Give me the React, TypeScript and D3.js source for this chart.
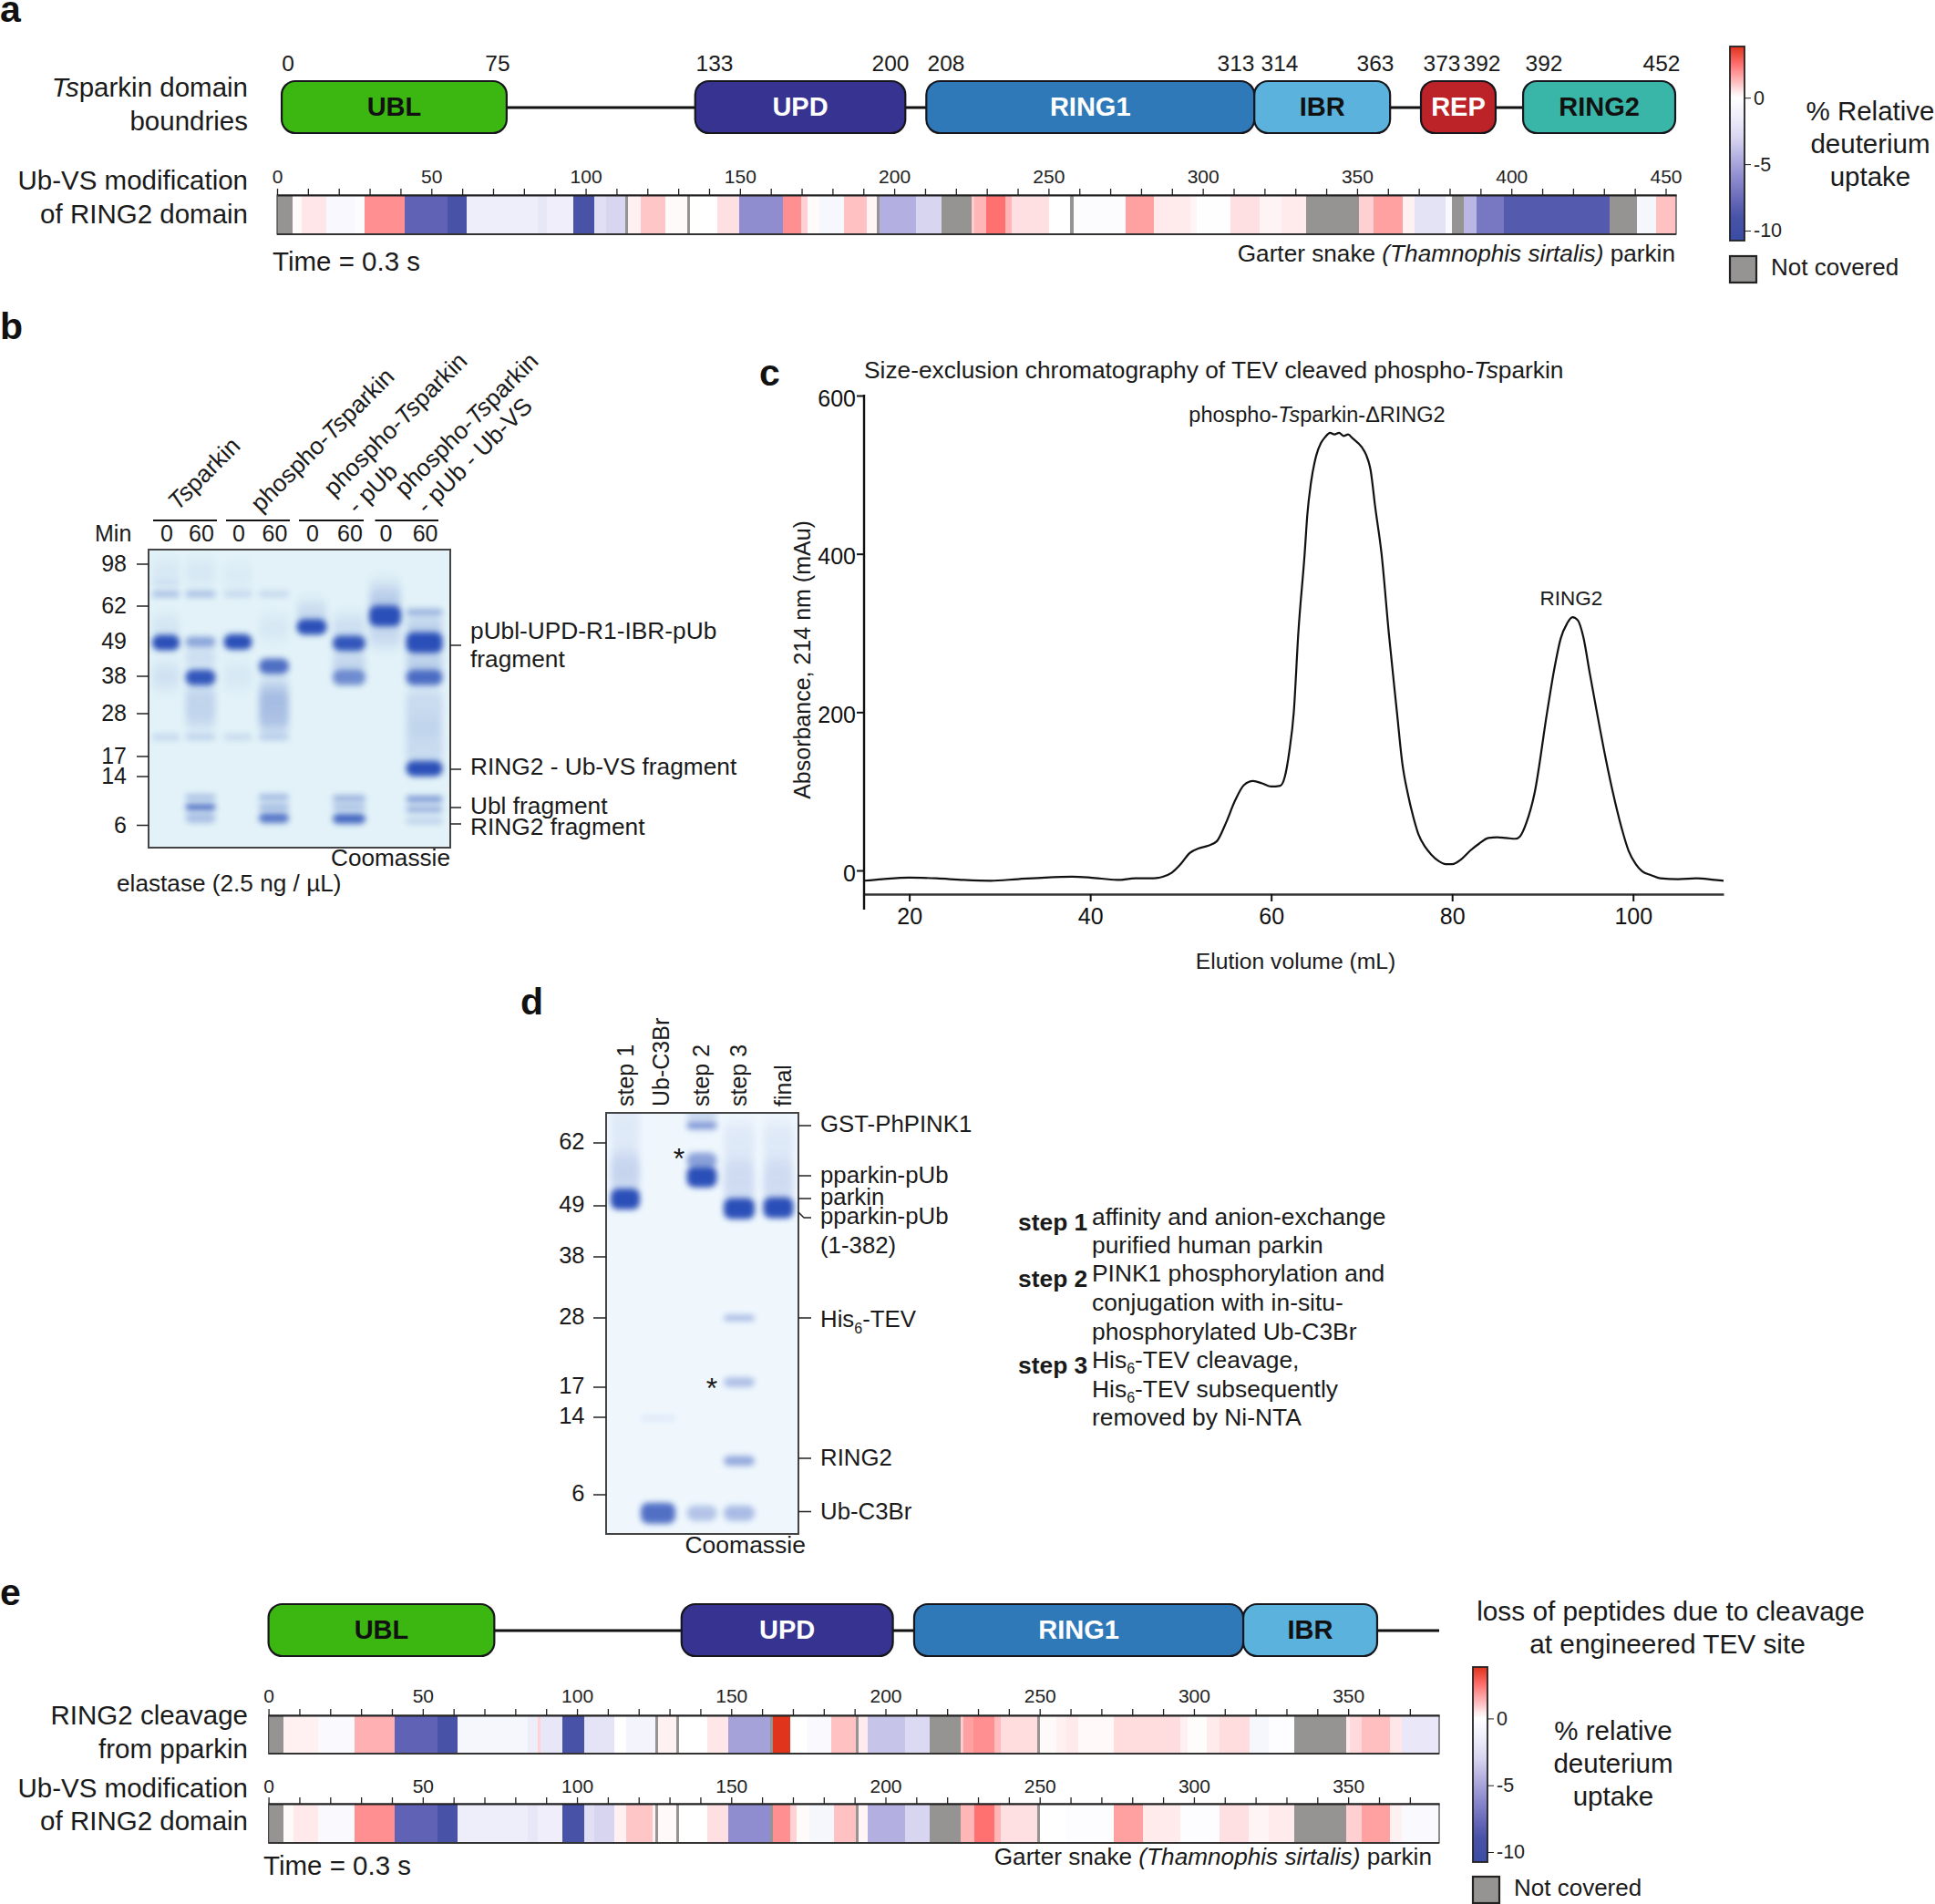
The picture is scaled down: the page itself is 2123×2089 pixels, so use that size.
import { useEffect, useRef } from 'react';
import * as d3 from 'd3';

type Seg = [number, number | null];
type Band = [number, number, number, string];
type Sel = d3.Selection<any, unknown, null, undefined>;

const FONT = '"Liberation Sans", Arial, sans-serif';
const GREY = '#969492';

// % relative deuterium uptake per segment: [first residue, uptake], null = not covered
const ubVsFull: Seg[] = [
  [0, null], [5, 0.1], [8, 0.5], [16, -0.5], [25, -0.25], [28.3, 2], [41.3, -8], [55.3, -9], [61.3, -1.5],
  [84.5, -1.9], [87.5, -1.4], [95.9, -9], [102.9, -2.4], [106.5, -3], [112.8, null], [113.8, 0.3], [117.8, 1],
  [125.8, 0.1], [132.8, null], [133.8, 0], [142.8, 0.6], [149.8, -6], [163.8, 2], [169.8, 0.8], [171.8, 0.08],
  [175.8, -0.6], [183.8, 1.1], [191.2, 0.2], [194.4, null], [195.2, -4.5], [207.2, -3], [215.2, null], [225.1, 0.9],
  [226, 1.3], [229.7, 2.5], [236.1, 1.3], [238.1, 0.6], [250.1, 0], [257.1, null], [258.1, -0.2], [275.1, 1.7],
  [284.1, 0.42], [296.1, 0.2], [298.1, -0.1], [309.1, 0.6], [318.5, 0.22], [325.6, 0.42], [333.6, null], [350.6, 0.85],
  [355.2, 1.7], [364.8, 0.3], [368.6, -2.2], [378.6, -0.5], [380.6, null], [384.6, -4.2], [388.8, -7], [397.6, -8.5],
  [431.8, null], [440.8, -0.7], [446.8, 1.1],
];
const ring2Cleavage: Seg[] = [
  [0, null], [4.9, 0.3], [16, -0.4], [27.9, 1.4], [41, -8], [54.8, -9], [61.2, -0.7], [84, -1.5], [87.2, 0.8],
  [88.2, -1.9], [95.3, -9], [102.3, -2.1], [112.1, -0.1], [115.9, -0.9], [125.3, null], [126.2, 0.3], [132.1, null],
  [133, 0], [142.3, 0.5], [149, -5.1], [162.6, null], [163.4, 3.8], [169.2, 0], [174.3, -0.4], [182.4, 1.1],
  [190.3, null], [191.2, 0.4], [194.2, -3.7], [206.5, -2.7], [214.3, null], [224.3, 0.9], [225.3, 1.7], [228.5, 2],
  [235.3, 1.2], [237.4, 0.65], [249.2, null], [250.1, 0.1], [255.4, 0.3], [258.6, 0.45], [262.4, 0.12], [274, 0.65],
  [295.6, 0.3], [297.9, 0.06], [304.3, 0.42], [308.3, 0.65], [318, -0.7], [324.1, -0.15], [332.4, null], [349.3, 0.45],
  [350.6, 0.7], [354.4, 1.15], [363.5, 0.5], [367.5, -1.8], [379.5, -1.8],
];
const ubVsTrim: Seg[] = [
  [0, null], [4.9, 0.1], [8.1, 0.45], [16, -0.4], [27.9, 2], [41, -8], [54.8, -9], [61.2, -1.5], [84, -1.9],
  [87.2, -1.4], [95.3, -9], [102.3, -2.4], [105.7, -3], [112.1, 0.3], [116, 1], [124.4, 0.3], [125.3, null],
  [126.2, 0.12], [132.1, null], [133, 0], [142.3, 0.6], [149, -6], [162.6, null], [163.4, 2], [169.2, 0.8],
  [171.1, 0.08], [175.2, -0.7], [183.2, 1.1], [190.3, null], [191.2, 0.2], [194.2, -4.5], [206.5, -3], [214.3, null],
  [224.3, 1.3], [228.9, 2.5], [235.3, 1.3], [237.4, 0.6], [249.2, null], [250.1, 0], [258.6, -0.15], [274, 1.7],
  [283.5, 0.42], [295.6, -0.15], [308.3, 0.6], [317.6, 0.22], [324.1, 0.42], [332.4, null], [349.3, 0.85], [354.4, 1.7],
  [363.5, 0.3], [367.5, -0.4], [379.5, -0.4],
];

// colour key of the uptake legend
const uptakeStops = [-10.75, -9, -8, -6, -4.5, -3, -1.5, -0.5, 0, 0.5, 1, 2, 2.5, 3.85];
const uptakeColors = ['#3a4ca4', '#4853a8', '#5f62b5', '#8f8ccf', '#b3b0e1', '#d8d5f0', '#eeedfa', '#f8f8fe',
  '#ffffff', '#ffe6e8', '#ffc6c8', '#ff8f90', '#ff7070', '#e0321a'];
const legendTicks = [0, -5, -10];

// domain boxes, in residues of the drawn schematic
const domainNames = ['UBL', 'UPD', 'RING1', 'IBR', 'REP', 'RING2'];
const domainStarts = [1.5, 135.5, 210.4, 316.7, 370.7, 403.8];
const domainEnds = [74.4, 203.6, 316.7, 360.7, 394.9, 453.1];
const domainFills = ['#3cb712', '#363391', '#2f79b9', '#5ab2dd', '#bb2329', '#3ab6a8'];
const domainInk = ['#111', '#fff', '#fff', '#111', '#fff', '#111'];
const domainStartsE = [0, 133.9, 209.3, 316];
const domainEndsE = [73.2, 202.4, 316, 359.4];
const boundaryLabels = ['0', '75', '133', '200', '208', '313', '314', '363', '373', '392', '392', '452'];
const boundaryX = [316, 546, 784, 977, 1038, 1356, 1404, 1509, 1582, 1626, 1694, 1823];

// SEC trace
const elutionVol = [15, 17, 20, 23, 26, 29, 32, 35, 38, 40, 43, 45, 47, 48, 49, 50, 51, 52, 53, 54, 55, 56, 57, 58, 59, 60, 61, 61.5,
  62, 62.5, 63, 63.7, 64, 64.4, 65, 65.5, 66, 66.5, 67, 67.5, 68, 68.5, 69, 70, 70.5, 71, 71.5, 72.2, 73, 73.9, 74.5, 75.1, 75.7, 76.3, 77, 77.7, 78.5, 79.3, 80, 81, 82, 83,
  84, 85, 86, 87, 87.5, 88.2, 89.1, 90.5, 91.3, 92, 92.7, 93.3, 93.9, 94.5, 95.2, 96, 97, 97.8, 98.7, 99.5, 100.3, 101, 102, 103, 105, 107, 109, 110];
const absorbance = [-13, -11, -9, -10, -12, -13, -11, -9, -8, -9, -12, -10, -10, -8, -3, 8, 22, 28, 31, 37, 60, 88, 108, 113, 110, 106, 107, 118,
  150, 200, 300, 400, 450, 490, 525, 540, 548, 553, 551, 553, 549, 551, 546, 535, 525, 505, 459, 400, 300, 200, 135, 97, 68, 45, 30, 20, 12, 8, 8, 14, 25, 34,
  41, 42, 41, 40, 43, 60, 97, 200, 255, 293, 312, 320, 316, 295, 250, 200, 140, 97, 55, 25, 8, -1, -6, -10, -11, -10, -12, -13];
const secXTicks = [20, 40, 60, 80, 100];
const secYTicks = [0, 200, 400, 600];

// gels: [lane, apparent mass in kDa, stain strength, band kind]
const gelBMasses = [98, 62, 49, 38, 28, 17, 14, 6];
const gelBLanes = ['0', '60', '0', '60', '0', '60', '0', '60'];
const gelBBands: Band[] = [
  [0, 91, 0.06, 'smear'], [0, 82, 0.08, 'thin'], [0, 72.4, 0.3, 'thin'], [0, 54, 0.08, 'smear'], [0, 48.7, 1, 'heavy'], [0, 38, 0.1, 'smear'], [0, 22, 0.16, 'thin'],
  [1, 91, 0.06, 'smear'], [1, 72.4, 0.3, 'thin'], [1, 49, 0.45, 'band'], [1, 44, 0.12, 'smear'], [1, 37.7, 0.95, 'heavy'], [1, 30, 0.18, 'long'], [1, 22, 0.18, 'thin'], [1, 10.6, 0.3, 'thin'], [1, 9, 0.8, 'thin'], [1, 7.2, 0.3, 'band'],
  [2, 72.4, 0.15, 'thin'], [2, 88, 0.04, 'smear'], [2, 48.9, 1, 'heavy'], [2, 38, 0.06, 'smear'], [2, 22, 0.14, 'thin'],
  [3, 72.4, 0.15, 'thin'], [3, 54, 0.06, 'smear'], [3, 41.2, 0.8, 'heavy'], [3, 35, 0.12, 'smear'], [3, 29, 0.3, 'long'], [3, 22, 0.18, 'thin'], [3, 10.6, 0.35, 'thin'], [3, 9, 0.35, 'thin'], [3, 7.2, 0.75, 'band'],
  [4, 59, 0.15, 'smear'], [4, 54.4, 1, 'heavy'],
  [5, 54, 0.12, 'smear'], [5, 48.5, 0.95, 'heavy'], [5, 42, 0.18, 'smear'], [5, 37.7, 0.6, 'heavy'], [5, 10.4, 0.4, 'thin'], [5, 9, 0.3, 'thin'], [5, 7.1, 0.85, 'band'],
  [6, 75, 0.08, 'smear'], [6, 65, 0.2, 'smear'], [6, 58.4, 1, 'xheavy'], [6, 52, 0.16, 'smear'],
  [7, 59.8, 0.35, 'thin'], [7, 54, 0.2, 'smear'], [7, 48.7, 1, 'xheavy'], [7, 42, 0.22, 'smear'], [7, 37.7, 0.8, 'heavy'], [7, 29, 0.14, 'long'], [7, 20, 0.14, 'long'], [7, 15.2, 1, 'heavy'], [7, 10.3, 0.55, 'thin'], [7, 8.6, 0.4, 'thin'], [7, 6.7, 0.2, 'thin'],
];
const gelDMasses = [62, 49, 38, 28, 17, 14, 6];
const gelDLanes = ['step 1', 'Ub-C3Br', 'step 2', 'step 3', 'final'];
const gelDBands: Band[] = [
  [0, 65, 0.08, 'long'], [0, 56, 0.2, 'long'], [0, 50.4, 1, 'xheavy'],
  [1, 13.9, 0.08, 'thin'], [1, 4.1, 0.8, 'xheavy'],
  [2, 68, 0.2, 'smear'], [2, 65.6, 0.55, 'thin'], [2, 58.4, 0.5, 'heavy'], [2, 55, 1, 'xheavy'], [2, 4.1, 0.3, 'heavy'],
  [3, 62, 0.08, 'long'], [3, 54, 0.16, 'long'], [3, 48.4, 1, 'xheavy'], [3, 28, 0.35, 'thin'], [3, 17.8, 0.32, 'band'], [3, 9.5, 0.45, 'band'], [3, 4.1, 0.35, 'heavy'],
  [4, 62, 0.08, 'long'], [4, 54, 0.16, 'long'], [4, 48.6, 1, 'xheavy'],
];

const bandHeights: Record<string, number> = { thin: 7, band: 11, heavy: 17, xheavy: 23, smear: 26, long: 45 };

const stepNotes: [string, (string | [string, boolean])[]][] = [
  ['step 1', ['affinity and anion-exchange']],
  ['', ['purified human parkin']],
  ['step 2', ['PINK1 phosphorylation and']],
  ['', ['conjugation with in-situ-']],
  ['', ['phosphorylated Ub-C3Br']],
  ['step 3', ['His', ['6', true], '-TEV cleavage,']],
  ['', ['His', ['6', true], '-TEV subsequently']],
  ['', ['removed by Ni-NTA']],
];

const uptakeColor = d3.scaleLinear<string>().domain(uptakeStops).range(uptakeColors).clamp(true);

// one helper for all the plain labels, parts = [text, italic]
function label(g: Sel, x: number, y: number, parts: string | [string, boolean][], size: number, anchor = 'start', weight = 'normal', fill = '#1a1a1a') {
  const t = g.append('text').attr('x', x).attr('y', y).attr('font-size', size).attr('text-anchor', anchor)
    .attr('font-weight', weight).attr('font-family', FONT).attr('fill', fill);
  if (typeof parts === 'string') t.text(parts);
  else parts.forEach(([s, it]) => t.append('tspan').attr('font-style', it ? 'italic' : 'normal').text(s));
  return t;
}

function drawStrip(g: Sel, x: d3.ScaleLinear<number, number>, segs: Seg[], top: number, h: number, end: number, tickPad: number) {
  g.selectAll(null).data(segs).enter().append('rect')
    .attr('x', d => x(d[0]))
    .attr('width', (d, i) => x(i + 1 < segs.length ? segs[i + 1][0] : end) - x(d[0]))
    .attr('y', top).attr('height', h)
    .attr('fill', d => d[1] === null ? GREY : uptakeColor(d[1]))
    .attr('shape-rendering', 'crispEdges');
  g.append('rect').attr('x', x(0)).attr('y', top).attr('width', x(end) - x(0)).attr('height', h)
    .attr('fill', 'none').attr('stroke', '#444').attr('stroke-width', 1.2);
  g.append('line').attr('x1', x(0)).attr('x2', x(end)).attr('y1', top + h).attr('y2', top + h).attr('stroke', '#333').attr('stroke-width', 2.2);
  const axis = g.append('g').attr('transform', `translate(0,${top})`)
    .call(d3.axisTop(x).tickValues(d3.range(0, end, 10)).tickSize(7).tickSizeOuter(0).tickPadding(tickPad)
      .tickFormat(d => (+d % 50 === 0 ? String(d) : '')));
  axis.attr('font-size', 21).attr('font-family', FONT).attr('color', '#222');
  axis.select('.domain').attr('stroke-width', 2);
  axis.selectAll('.tick line').attr('stroke-width', 1.3);
}

function drawDomains(g: Sel, x: d3.ScaleLinear<number, number>, starts: number[], ends: number[], top: number, h: number, lineEnd: number) {
  g.append('line').attr('x1', x(starts[0])).attr('x2', x(lineEnd)).attr('y1', top + h / 2 + 0.5).attr('y2', top + h / 2 + 0.5)
    .attr('stroke', '#111').attr('stroke-width', 3);
  starts.forEach((s, i) => {
    g.append('rect').attr('x', x(s)).attr('y', top).attr('width', x(ends[i]) - x(s)).attr('height', h).attr('rx', 15)
      .attr('fill', domainFills[i]).attr('stroke', '#16161c').attr('stroke-width', 2.2);
    label(g, (x(s) + x(ends[i])) / 2, top + h / 2 + 9, domainNames[i], 29, 'middle', 'bold', domainInk[i]);
  });
}

function drawLegend(g: Sel, left: number, top: number, h: number, gradId: string, defs: Sel, boxTop: number) {
  const w = 16;
  const y = d3.scaleLinear().domain([3.85, -10.75]).range([top, top + h]);
  const grad = defs.append('linearGradient').attr('id', gradId).attr('x1', 0).attr('y1', 0).attr('x2', 0).attr('y2', 1);
  uptakeStops.slice().reverse().forEach(v => {
    grad.append('stop').attr('offset', (y(v) - top) / h).attr('stop-color', uptakeColor(v));
  });
  g.append('rect').attr('x', left).attr('y', top).attr('width', w).attr('height', h)
    .attr('fill', `url(#${gradId})`).attr('stroke', '#222').attr('stroke-width', 1.8);
  const axis = g.append('g').attr('transform', `translate(${left + w},0)`)
    .call(d3.axisRight(y).tickValues(legendTicks).tickSize(7).tickPadding(3).tickFormat(d => String(d)));
  axis.attr('font-size', 21.5).attr('font-family', FONT).attr('color', '#222');
  axis.select('.domain').remove();
  g.append('rect').attr('x', left).attr('y', boxTop).attr('width', 29).attr('height', 29)
    .attr('fill', GREY).attr('stroke', '#222').attr('stroke-width', 2.2);
  label(g, left + 45, boxTop + 21, 'Not covered', 26);
}

function drawGel(g: Sel, id: string, defs: Sel, frame: { x: number; y: number; w: number; h: number }, bg: string,
  yMass: d3.ScaleLinear<number, number>, laneX: number[], laneW: number[], bands: Band[]) {
  defs.append('clipPath').attr('id', `${id}-clip`).append('rect').attr('x', frame.x).attr('y', frame.y).attr('width', frame.w).attr('height', frame.h);
  defs.append('filter').attr('id', `${id}-soft`).attr('x', '-50%').attr('y', '-100%').attr('width', '200%').attr('height', '300%')
    .append('feGaussianBlur').attr('stdDeviation', '3.5 8');
  defs.append('filter').attr('id', `${id}-sharp`).attr('x', '-50%').attr('y', '-200%').attr('width', '200%').attr('height', '500%')
    .append('feGaussianBlur').attr('stdDeviation', '3 3.2');
  g.append('rect').attr('x', frame.x).attr('y', frame.y).attr('width', frame.w).attr('height', frame.h).attr('fill', bg);
  const inner = g.append('g').attr('clip-path', `url(#${id}-clip)`);
  inner.selectAll(null).data(bands).enter().append('rect')
    .attr('x', d => laneX[d[0]] - laneW[d[0]] / 2)
    .attr('width', d => laneW[d[0]])
    .attr('y', d => yMass(d[1]) - bandHeights[d[3]] / 2)
    .attr('height', d => bandHeights[d[3]])
    .attr('rx', d => Math.min(bandHeights[d[3]] / 2, 8))
    .attr('fill', '#2a50b8')
    .attr('opacity', d => d[2])
    .attr('filter', d => (d[3] === 'smear' || d[3] === 'long' ? `url(#${id}-soft)` : `url(#${id}-sharp)`));
  g.append('rect').attr('x', frame.x).attr('y', frame.y).attr('width', frame.w).attr('height', frame.h)
    .attr('fill', 'none').attr('stroke', '#444').attr('stroke-width', 2);
}

const TS: [string, boolean] = ['Ts', true];

export default function App() {
  const ref = useRef<SVGSVGElement>(null);

  useEffect(() => {
    if (!ref.current) return;
    const svg = d3.select(ref.current) as unknown as Sel;
    svg.selectAll('*').remove();
    const defs = svg.append('defs');

    // panel letters
    ([['a', 0, 24], ['b', 0, 372], ['c', 833, 423], ['d', 571, 1113], ['e', 0, 1761]] as [string, number, number][])
      .forEach(([s, x, y]) => label(svg, x, y, s, 41, 'start', 'bold', '#111'));

    // ---- a
    const a = svg.append('g');
    const xA = d3.scaleLinear().domain([0, 453.4]).range([304, 1839]);
    drawDomains(a, xA, domainStarts, domainEnds, 89, 57, 453);
    boundaryLabels.forEach((s, i) => label(a, boundaryX[i], 78, s, 24.5, 'middle'));
    label(a, 272, 106, [TS, ['parkin domain', false]], 29.5, 'end');
    label(a, 272, 143, 'boundries', 29.5, 'end');
    label(a, 272, 208, 'Ub-VS modification', 29.5, 'end');
    label(a, 272, 245, 'of RING2 domain', 29.5, 'end');
    drawStrip(a, xA, ubVsFull, 214, 43, 453.4, 6);
    label(a, 299, 297, 'Time = 0.3 s', 29.5);
    label(a, 1838, 287, [['Garter snake ', false], ['(Thamnophis sirtalis)', true], [' parkin', false]], 26.2, 'end');
    drawLegend(a, 1898, 51, 213, 'legend-a', defs, 281);
    ['% Relative', 'deuterium', 'uptake'].forEach((s, i) => label(a, 2052, 132 + i * 36, s, 29.5, 'middle'));

    // ---- b
    const b = svg.append('g');
    const frameB = { x: 163, y: 603, w: 331, h: 327 };
    const yB = d3.scaleLinear().domain(gelBMasses).range([619, 665, 704, 742, 783, 830, 852, 905.5]);
    const laneXB = [182, 220, 261, 300.5, 342, 383, 422.5, 465.6];
    drawGel(b, 'gel-b', defs, frameB, '#e2f2f8', yB, laneXB, [30, 33, 31, 33, 33, 36, 35, 40], gelBBands);
    gelBMasses.forEach(m => {
      if (m !== 49) b.append('line').attr('x1', 150).attr('x2', 163).attr('y1', yB(m)).attr('y2', yB(m)).attr('stroke', '#222').attr('stroke-width', 1.5);
      label(b, 139, yB(m) + 8, String(m), 25, 'end');
    });
    label(b, 104, 594, 'Min', 25);
    gelBLanes.forEach((s, i) => label(b, laneXB[i] + 1, 594, s, 25, 'middle'));
    [[168, 238], [248, 318], [328, 399], [411.5, 481]].forEach(([x1, x2]) =>
      b.append('line').attr('x1', x1).attr('x2', x2).attr('y1', 571).attr('y2', 571).attr('stroke', '#111').attr('stroke-width', 1.8));
    const rotated = (x: number, y: number, parts: [string, boolean][]) =>
      label(b, x, y, parts, 26.5).attr('transform', `rotate(-45 ${x} ${y})`);
    rotated(195, 561, [TS, ['parkin', false]]);
    rotated(286, 563, [['phospho-', false], TS, ['parkin', false]]);
    rotated(366, 546, [['phospho-', false], TS, ['parkin', false]]);
    rotated(392, 565, [['- pUb', false]]);
    rotated(444, 546, [['phospho-', false], TS, ['parkin', false]]);
    rotated(468, 565, [['- pUb - Ub-VS', false]]);
    [708, 844, 886, 904].forEach(y => b.append('line').attr('x1', 494).attr('x2', 506).attr('y1', y).attr('y2', y).attr('stroke', '#222').attr('stroke-width', 1.5));
    label(b, 516, 701, 'pUbl-UPD-R1-IBR-pUb', 26.3);
    label(b, 516, 732, 'fragment', 26.3);
    label(b, 516, 850, 'RING2 - Ub-VS fragment', 26.3);
    label(b, 516, 893, 'Ubl fragment', 26.3);
    label(b, 516, 916, 'RING2 fragment', 26.3);
    label(b, 494, 950, 'Coomassie', 26.2, 'end');
    label(b, 128, 978, 'elastase (2.5 ng / µL)', 26.2);

    // ---- c
    const c = svg.append('g');
    const xC = d3.scaleLinear().domain([15, 110]).range([948, 1891]);
    const yC = d3.scaleLinear().domain([0, 600]).range([955, 434]);
    const xAxis = c.append('g').attr('transform', 'translate(0,981)')
      .call(d3.axisBottom(xC).tickValues(secXTicks).tickSize(8).tickSizeOuter(0).tickPadding(7));
    xAxis.attr('font-size', 25).attr('font-family', FONT).attr('color', '#111');
    xAxis.select('.domain').attr('stroke', '#333').attr('stroke-width', 2.6);
    xAxis.selectAll('.tick line').attr('stroke-width', 2);
    const yAxis = c.append('g').attr('transform', 'translate(948,0)')
      .call(d3.axisLeft(yC).tickValues(secYTicks).tickSize(8).tickSizeOuter(0).tickPadding(1));
    yAxis.attr('font-size', 25).attr('font-family', FONT).attr('color', '#111');
    yAxis.select('.domain').remove();
    yAxis.selectAll('.tick line').attr('stroke-width', 2);
    yAxis.selectAll('.tick text').attr('dy', '0.39em').attr('transform', 'translate(0,1.5)');
    c.append('line').attr('x1', 948).attr('x2', 948).attr('y1', 433).attr('y2', 998).attr('stroke', '#111').attr('stroke-width', 2.4);
    const trace = d3.line<number>().x(d => xC(d)).y((_, i) => yC(absorbance[i])).curve(d3.curveMonotoneX);
    c.append('path').attr('d', trace(elutionVol)).attr('fill', 'none').attr('stroke', '#111').attr('stroke-width', 2.2);
    label(c, 948, 415, [['Size-exclusion chromatography of TEV cleaved phospho-', false], TS, ['parkin', false]], 26.3);
    label(c, 1445, 463, [['phospho-', false], TS, ['parkin-ΔRING2', false]], 23.5, 'middle');
    label(c, 1724, 664, 'RING2', 22.5, 'middle');
    label(c, 1421.5, 1063, 'Elution volume (mL)', 24.7, 'middle');
    label(c, 0, 0, 'Absorbance, 214 nm (mAu)', 25, 'middle').attr('transform', 'translate(889,724) rotate(-90)');

    // ---- d
    const d = svg.append('g');
    const frameD = { x: 665, y: 1221, w: 211, h: 462 };
    const yD = d3.scaleLinear().domain(gelDMasses).range([1254, 1323, 1379, 1446, 1522, 1555, 1640]);
    const laneXD = [686, 722, 770, 811, 854];
    const laneBase = [695, 734, 778, 819, 868];
    drawGel(d, 'gel-d', defs, frameD, '#eff7fd', yD, laneXD, [32, 38, 33, 34, 33], gelDBands);
    gelDMasses.forEach(m => {
      d.append('line').attr('x1', 651).attr('x2', 665).attr('y1', yD(m)).attr('y2', yD(m)).attr('stroke', '#222').attr('stroke-width', 1.5);
      label(d, 641.5, yD(m) + 7, String(m), 25.5, 'end');
    });
    gelDLanes.forEach((s, i) => label(d, laneBase[i], 1214, s, 25).attr('transform', `rotate(-90 ${laneBase[i]} 1214)`));
    [1235, 1290, 1315, 1446, 1600, 1658.5].forEach(y =>
      d.append('line').attr('x1', 876).attr('x2', 890).attr('y1', y).attr('y2', y).attr('stroke', '#222').attr('stroke-width', 1.5));
    d.append('path').attr('d', d3.line()([[876, 1330], [882, 1336], [890, 1336]])).attr('fill', 'none').attr('stroke', '#222').attr('stroke-width', 1.5);
    ([['GST-PhPINK1', 1242], ['pparkin-pUb', 1298], ['parkin', 1322], ['pparkin-pUb', 1343], ['(1-382)', 1375], ['RING2', 1608], ['Ub-C3Br', 1666.5]] as [string, number][])
      .forEach(([s, y]) => label(d, 900, y, s, 25.8));
    const his = label(d, 900, 1456, 'His', 25.8);
    his.append('tspan').attr('font-size', 16).attr('dy', 7).text('6');
    his.append('tspan').attr('dy', -7).text('-TEV');
    label(d, 745, 1282, '*', 32, 'middle');
    label(d, 781, 1534, '*', 32, 'middle');
    label(d, 884, 1704, 'Coomassie', 26.5, 'end');

    const baselines = [1350, 1381, 1412, 1444, 1476, 1507, 1539, 1570];
    stepNotes.forEach(([step, parts], i) => {
      if (step) label(d, 1117, baselines[i], step, 26.4, 'start', 'bold');
      const t = label(d, 1198, baselines[i], '', 26.4);
      parts.forEach(p => {
        if (typeof p === 'string') t.append('tspan').attr('dy', t.selectAll('tspan').size() ? -6 : 0).text(p);
        else t.append('tspan').attr('font-size', 16).attr('dy', 6).text(p[0]);
      });
    });

    // ---- e
    const e = svg.append('g');
    const xE = d3.scaleLinear().domain([0, 379.5]).range([294.6, 1579]);
    drawDomains(e, xE, domainStartsE, domainEndsE, 1760, 57, 379.5);
    drawStrip(e, xE, ring2Cleavage, 1882, 42, 379.5, 7);
    drawStrip(e, xE, ubVsTrim, 1979, 43, 379.5, 5);
    label(e, 272, 1892, 'RING2 cleavage', 29.5, 'end');
    label(e, 272, 1929, 'from pparkin', 29.5, 'end');
    label(e, 272, 1972, 'Ub-VS modification', 29.5, 'end');
    label(e, 272, 2008, 'of RING2 domain', 29.5, 'end');
    label(e, 289, 2057, 'Time = 0.3 s', 29.5);
    label(e, 1571, 2046, [['Garter snake ', false], ['(Thamnophis sirtalis)', true], [' parkin', false]], 26.2, 'end');
    label(e, 1833, 1778, 'loss of peptides due to cleavage', 29.8, 'middle');
    label(e, 1829.5, 1814, 'at engineered TEV site', 29.8, 'middle');
    drawLegend(e, 1616, 1829, 214, 'legend-e', defs, 2059);
    ['% relative', 'deuterium', 'uptake'].forEach((s, i) => label(e, 1770, 1909 + i * 36, s, 29.5, 'middle'));
  }, []);

  return <svg ref={ref} width={2123} height={2089} style={{ position: 'absolute', left: 0, top: 0, background: '#fff' }} />;
}
